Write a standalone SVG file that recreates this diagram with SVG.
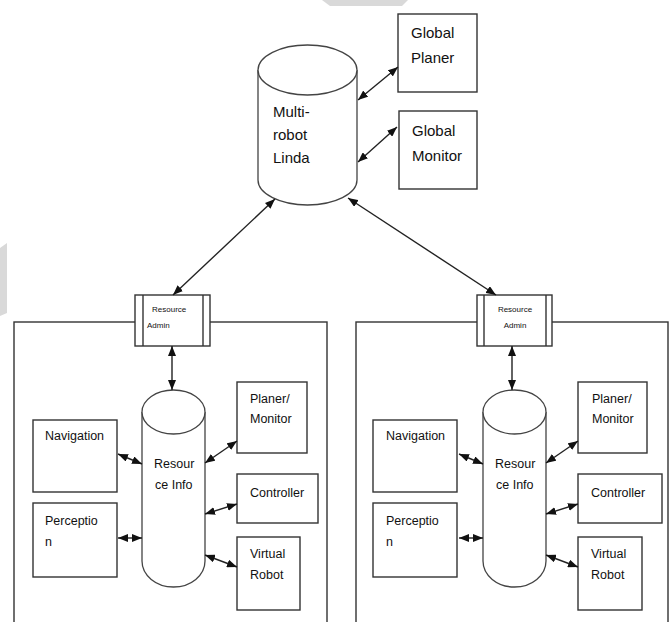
<svg xmlns="http://www.w3.org/2000/svg" width="672" height="622" viewBox="0 0 672 622">
<style>
.bx{fill:#fff;stroke:#333;stroke-width:1.4}
.cyl{fill:#fff;stroke:#444;stroke-width:1.3}
.t{font-family:"Liberation Sans",Arial,sans-serif;fill:#111}
.big{font-size:15px}
.mid{font-size:12.5px}
.sm{font-size:8px}
.c{stroke:#222;stroke-width:1.4;fill:none;marker-start:url(#ah);marker-end:url(#ah)}
.wm{fill:#d9d9d9}
</style>
<defs>
<marker id="ah" viewBox="0 0 10 8" refX="10" refY="4" markerUnits="userSpaceOnUse" markerWidth="10" markerHeight="8" orient="auto-start-reverse">
<path d="M0,0 L10,4 L0,8 z" fill="#111"/>
</marker>
</defs>
<rect width="672" height="622" fill="#fff"/>
<g id="watermark">
<polygon class="wm" points="322,0 408,0 402,6 330,6"/>
<polygon class="wm" points="0,248 7,243 7,313 0,316"/>
</g>
<g id="panel-left"><rect class="bx" x="14" y="322" width="313" height="310"/></g>
<g id="panel-right"><rect class="bx" x="356" y="322" width="312" height="310"/></g>
<g id="multi-robot-linda">
<path class="cyl" d="M258,70 L258,180 A49.5,25 0 0 0 357,180 L357,70"/>
<ellipse class="cyl" cx="307.5" cy="70" rx="49.5" ry="25"/>
<text class="t big" x="273" y="117">Multi-</text>
<text class="t big" x="273" y="140">robot</text>
<text class="t big" x="273" y="163">Linda</text>
</g>
<g id="global-planer">
<rect class="bx" x="398" y="14" width="79" height="78"/>
<text class="t big" x="411" y="38">Global</text>
<text class="t big" x="411" y="63">Planer</text>
</g>
<g id="global-monitor">
<rect class="bx" x="399" y="111" width="78" height="78"/>
<text class="t big" x="412" y="136">Global</text>
<text class="t big" x="412" y="161">Monitor</text>
</g>
<g id="resource-admin-left">
<rect class="bx" x="135" y="295" width="75" height="51"/>
<line x1="143" y1="295" x2="143" y2="346" stroke="#333" stroke-width="1.4"/>
<line x1="203" y1="295" x2="203" y2="346" stroke="#333" stroke-width="1.4"/>
<text class="t sm" x="152" y="312">Resource</text>
<text class="t sm" x="147" y="328">Admin</text>
</g>
<g id="resource-admin-right">
<rect class="bx" x="477" y="295" width="75" height="51"/>
<line x1="484" y1="295" x2="484" y2="346" stroke="#333" stroke-width="1.4"/>
<line x1="546" y1="295" x2="546" y2="346" stroke="#333" stroke-width="1.4"/>
<text class="t sm" x="515" y="312" text-anchor="middle">Resource</text>
<text class="t sm" x="515" y="328" text-anchor="middle">Admin</text>
</g>
<g id="resource-info-left">
<path class="cyl" d="M142,412 L142,561 A31.5,26 0 0 0 205,561 L205,412"/>
<ellipse class="cyl" cx="173.5" cy="412" rx="31.5" ry="22"/>
<text class="t mid" x="154" y="468">Resour</text>
<text class="t mid" x="155" y="489">ce Info</text>
</g>
<g id="resource-info-right">
<path class="cyl" d="M483,412 L483,561 A31.5,26 0 0 0 546,561 L546,412"/>
<ellipse class="cyl" cx="514.5" cy="412" rx="31.5" ry="22"/>
<text class="t mid" x="495" y="468">Resour</text>
<text class="t mid" x="496" y="489">ce Info</text>
</g>
<g id="navigation-left"><rect class="bx" x="33" y="420" width="84" height="72"/><text class="t mid" x="45" y="440">Navigation</text></g>
<g id="perception-left"><rect class="bx" x="33" y="503" width="84" height="74"/><text class="t mid" x="45" y="525">Perceptio</text><text class="t mid" x="45" y="546">n</text></g>
<g id="planer-monitor-left"><rect class="bx" x="237" y="382" width="70" height="71"/><text class="t mid" x="250" y="403">Planer/</text><text class="t mid" x="250" y="423">Monitor</text></g>
<g id="controller-left"><rect class="bx" x="237" y="474" width="81" height="49"/><text class="t mid" x="250" y="497">Controller</text></g>
<g id="virtual-robot-left"><rect class="bx" x="237" y="537" width="63" height="73"/><text class="t mid" x="250" y="558">Virtual</text><text class="t mid" x="250" y="579">Robot</text></g>
<g id="navigation-right"><rect class="bx" x="373" y="420" width="84" height="72"/><text class="t mid" x="386" y="440">Navigation</text></g>
<g id="perception-right"><rect class="bx" x="373" y="503" width="84" height="74"/><text class="t mid" x="386" y="525">Perceptio</text><text class="t mid" x="386" y="546">n</text></g>
<g id="planer-monitor-right"><rect class="bx" x="578" y="382" width="69" height="71"/><text class="t mid" x="592" y="403">Planer/</text><text class="t mid" x="592" y="423">Monitor</text></g>
<g id="controller-right"><rect class="bx" x="578" y="474" width="84" height="49"/><text class="t mid" x="591" y="497">Controller</text></g>
<g id="virtual-robot-right"><rect class="bx" x="578" y="537" width="64" height="73"/><text class="t mid" x="591" y="558">Virtual</text><text class="t mid" x="591" y="579">Robot</text></g>
<g id="connectors">
<line class="c" x1="358" y1="100" x2="398" y2="67"/>
<line class="c" x1="358" y1="162" x2="397" y2="127"/>
<line class="c" x1="275" y1="199" x2="173" y2="295"/>
<line class="c" x1="348" y1="198" x2="496" y2="295"/>
<line class="c" x1="172" y1="346" x2="172" y2="390"/>
<line class="c" x1="118" y1="454" x2="142" y2="464"/>
<line class="c" x1="118" y1="538" x2="142" y2="538"/>
<line class="c" x1="205" y1="463" x2="237" y2="441"/>
<line class="c" x1="205" y1="514" x2="237" y2="504"/>
<line class="c" x1="205" y1="555" x2="237" y2="567"/>
<line class="c" x1="512" y1="346" x2="512" y2="390"/>
<line class="c" x1="459" y1="454" x2="483" y2="464"/>
<line class="c" x1="459" y1="538" x2="483" y2="538"/>
<line class="c" x1="546" y1="463" x2="578" y2="441"/>
<line class="c" x1="546" y1="514" x2="578" y2="504"/>
<line class="c" x1="546" y1="555" x2="578" y2="567"/>
</g>
</svg>
